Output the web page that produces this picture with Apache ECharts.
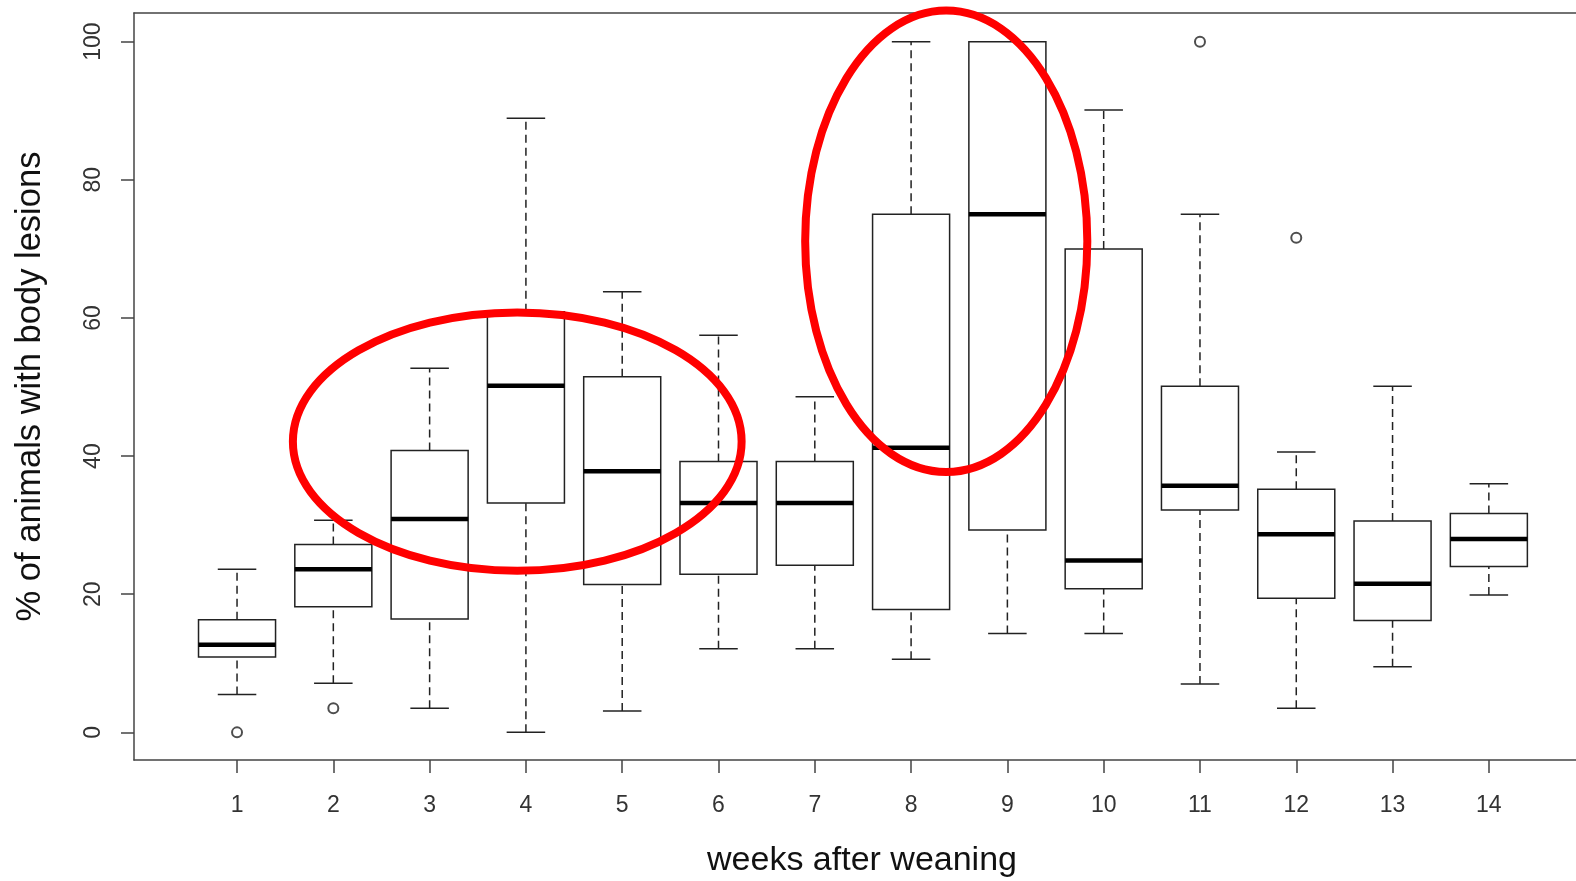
<!DOCTYPE html>
<html>
<head>
<meta charset="utf-8">
<title>body lesions</title>
<script src="https://cdn.jsdelivr.net/npm/echarts@6/dist/echarts.min.js"></script>
<style>
	html,body{margin:0;padding:0;background:#fff;}
	#chart{width:1576px;height:881px;}
</style>
</head>
<body>
<div id="chart"></div>
<script>
//数据
var weeks=[1,2,3,4,5,6,7,8,9,10,11,12,13,14];
var whiskerLow=[5.5,7.1,3.5,0,3.1,12.1,12.1,10.6,14.3,14.3,7.0,3.5,9.5,19.9];
var q1=[10.9,18.2,16.4,33.2,21.4,22.9,24.2,17.8,29.3,20.8,32.2,19.4,16.2,24.0];
var median=[12.7,23.6,30.9,50.2,37.8,33.2,33.2,41.2,75,24.9,35.7,28.7,21.5,28.0];
var q3=[16.3,27.2,40.8,60.9,51.5,39.2,39.2,75,100,70,50.1,35.2,30.6,31.7];
var whiskerHigh=[23.6,30.7,52.7,88.9,63.8,57.5,48.6,100,100,90.1,75,40.6,50.1,36.0];
var outliers=[[1,0],[2,3.5],[11,100],[12,71.6]];
var yTicks=[0,20,40,60,80,100];
//红色圈注 [中心x, 中心y, 半径x, 半径y]
var circles=[[3.91,42.1,2.33,18.7],[8.365,71.1,1.465,33.4]];

var ink='#222';
var frame='#444';
var font='Liberation Sans';

var boxData=[];
for(var i=0;i<weeks.length;i++){
	boxData.push([weeks[i],whiskerLow[i],q1[i],median[i],q3[i],whiskerHigh[i]]);
}

function renderBox(params,api){
	var x=api.value(0);
	var lo=api.coord([x,api.value(1)]);
	var b1=api.coord([x,api.value(2)]);
	var md=api.coord([x,api.value(3)]);
	var b3=api.coord([x,api.value(4)]);
	var hi=api.coord([x,api.value(5)]);
	var half=api.size([0.8,0])[0]/2;
	var cap=api.size([0.4,0])[0]/2;
	var dash={stroke:ink,lineWidth:1.5,lineDash:[8,5]};
	var solid={stroke:ink,lineWidth:1.5};
	return {
		type:'group',
		children:[
			{type:'line',shape:{x1:lo[0],y1:lo[1],x2:b1[0],y2:b1[1]},style:dash},
			{type:'line',shape:{x1:b3[0],y1:b3[1],x2:hi[0],y2:hi[1]},style:dash},
			{type:'line',shape:{x1:lo[0]-cap,y1:lo[1],x2:lo[0]+cap,y2:lo[1]},style:solid},
			{type:'line',shape:{x1:hi[0]-cap,y1:hi[1],x2:hi[0]+cap,y2:hi[1]},style:solid},
			{type:'rect',shape:{x:b3[0]-half,y:b3[1],width:half*2,height:b1[1]-b3[1]},style:{fill:'#fff',stroke:ink,lineWidth:1.5}},
			{type:'line',shape:{x1:md[0]-half,y1:md[1],x2:md[0]+half,y2:md[1]},style:{stroke:'#000',lineWidth:4.5}}
		]
	};
}

function renderCircle(params,api){
	var c=api.coord([api.value(0),api.value(1)]);
	var rx=api.size([api.value(2),0])[0];
	var ry=api.size([0,api.value(3)])[1];
	return {
		type:'ellipse',
		shape:{cx:c[0],cy:c[1],rx:rx,ry:ry},
		style:{fill:null,stroke:'#ff0000',lineWidth:8}
	};
}

var chart=echarts.init(document.getElementById('chart'));
var option={
	animation:false,
	backgroundColor:'#fff',
	grid:{left:134,top:13,width:1442,height:747,outerBoundsMode:'none'},
	xAxis:[
		{
			type:'value',
			min:-0.07,max:14.905,
			name:'weeks after weaning',
			nameLocation:'middle',
			nameGap:84,
			nameTextStyle:{fontFamily:font,fontSize:34,color:'#111',padding:[0,0,0,14]},
			axisLine:{show:true,onZero:false,lineStyle:{color:frame,width:1.5}},
			axisTick:{show:true,length:13,customValues:weeks,lineStyle:{color:frame,width:1.5}},
			axisLabel:{customValues:weeks,margin:34,fontFamily:font,fontSize:23,color:'#333'},
			splitLine:{show:false}
		},
		{
			//上边框
			type:'value',
			position:'top',
			min:-0.07,max:14.905,
			axisLine:{show:true,onZero:false,lineStyle:{color:frame,width:1.5}},
			axisTick:{show:false},
			axisLabel:{show:false},
			splitLine:{show:false}
		}
	],
	yAxis:{
		type:'value',
		min:-4,max:104.15,
		name:'% of animals with body lesions',
		nameLocation:'middle',
		nameGap:86,
		nameTextStyle:{fontFamily:font,fontSize:34.5,color:'#111'},
		axisLine:{show:true,onZero:false,lineStyle:{color:frame,width:1.5}},
		axisTick:{show:true,length:13,customValues:yTicks,lineStyle:{color:frame,width:1.5}},
		axisLabel:{customValues:yTicks,rotate:90,margin:29,fontFamily:font,fontSize:23,color:'#333'},
		splitLine:{show:false}
	},
	series:[
		{
			type:'custom',
			renderItem:renderBox,
			data:boxData,
			encode:{x:0,y:[1,2,3,4,5]},
			z:2
		},
		{
			type:'scatter',
			data:outliers,
			symbol:'emptyCircle',
			symbolSize:10,
			itemStyle:{color:ink,borderWidth:1.3},
			z:3
		},
		{
			type:'custom',
			renderItem:renderCircle,
			data:circles,
			encode:{x:0,y:1},
			clip:false,
			z:5
		}
	]
};
chart.setOption(option);
</script>
</body>
</html>
